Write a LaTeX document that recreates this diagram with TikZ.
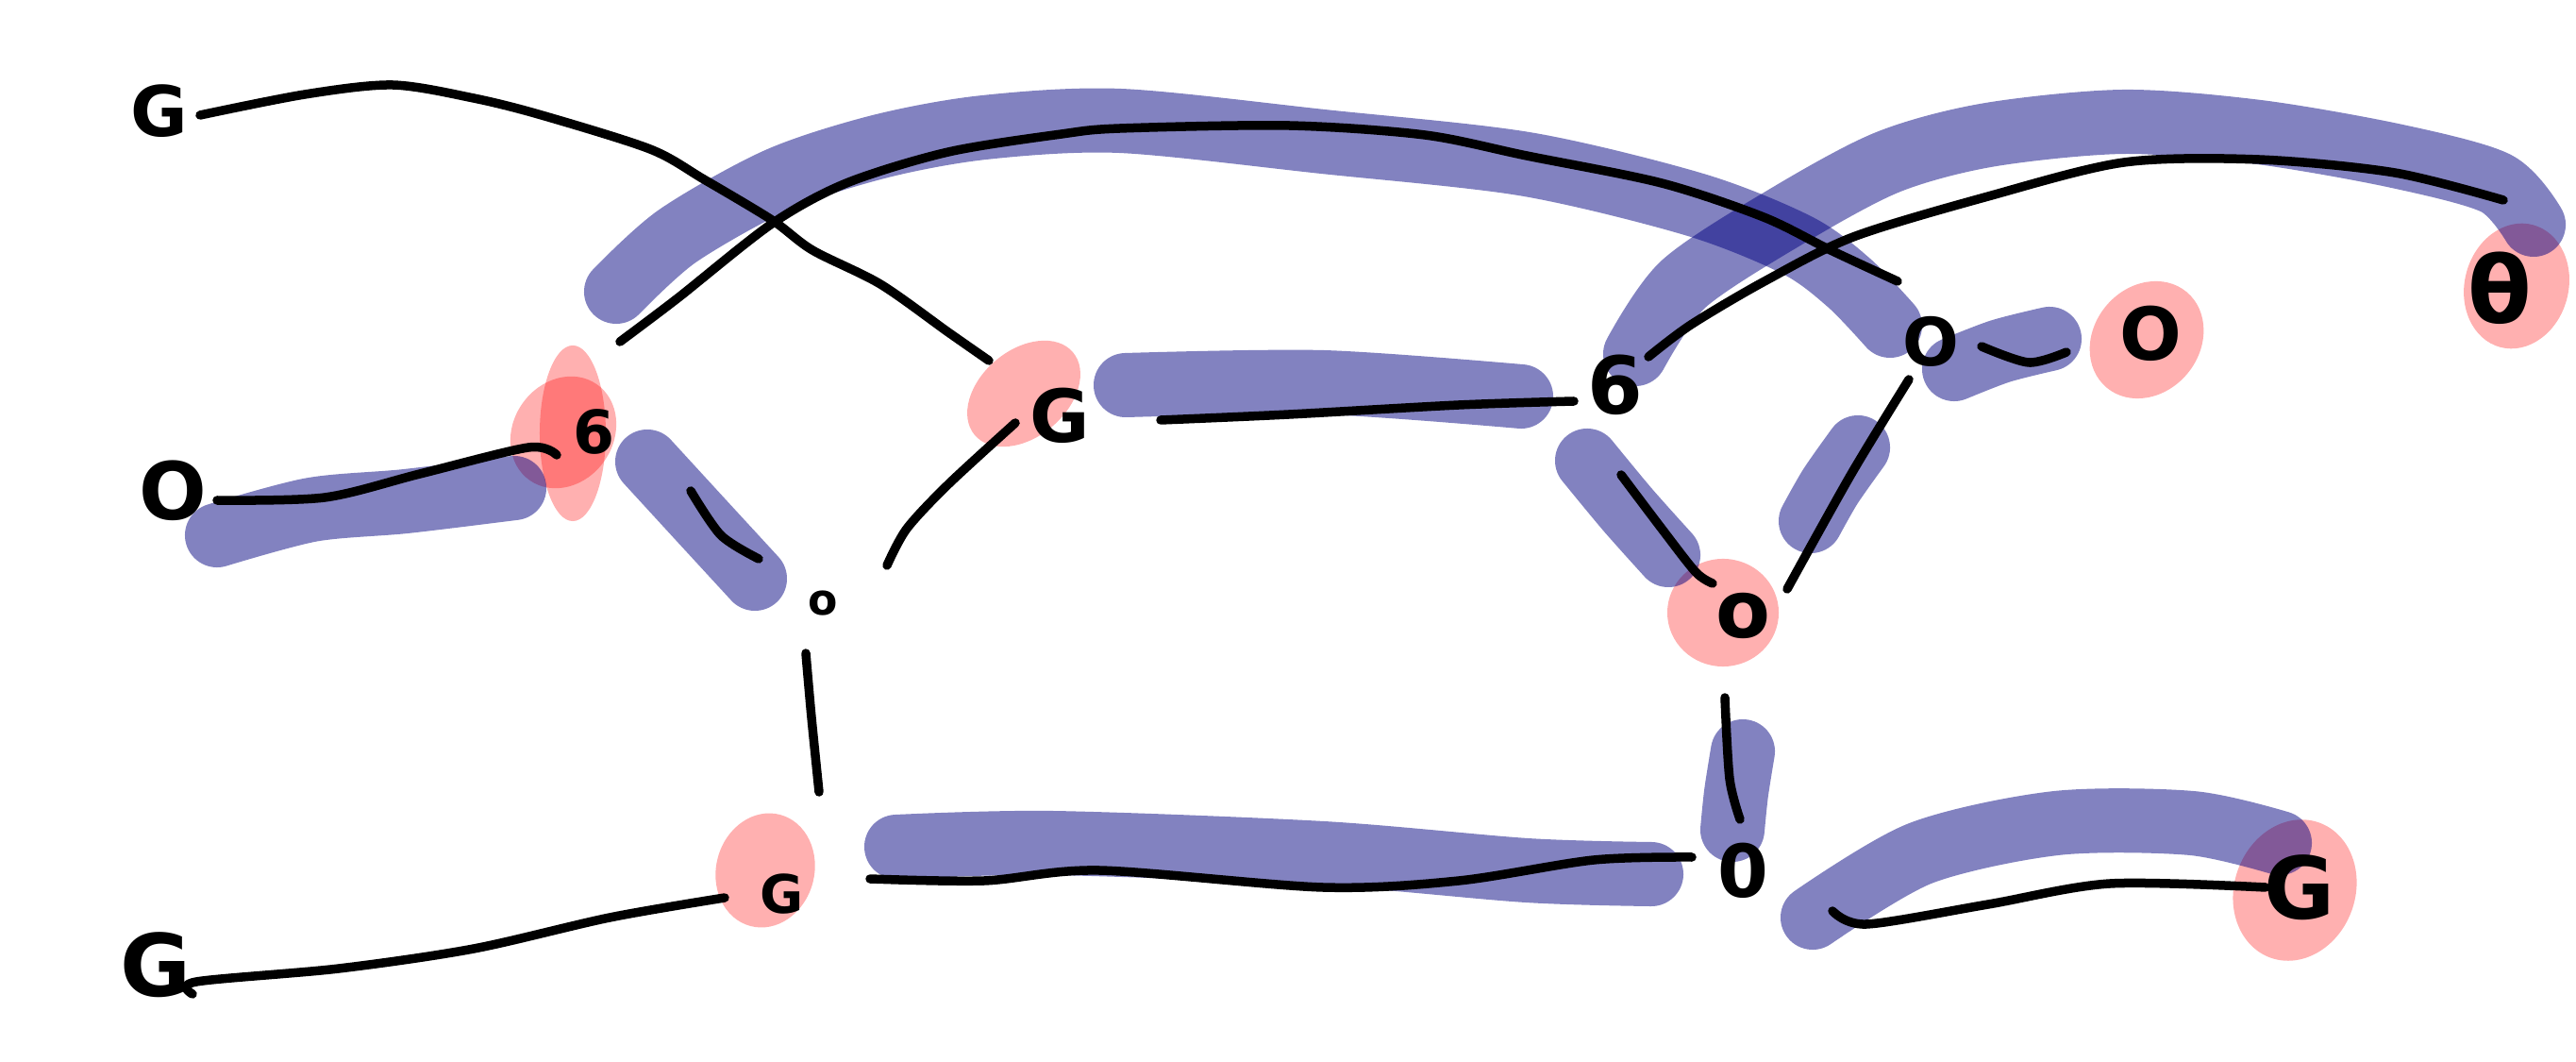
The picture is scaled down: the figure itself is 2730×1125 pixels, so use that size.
\documentclass[tikz,border=0pt]{standalone}
\usepackage{fontspec}
\setmainfont{DejaVu Sans}
\definecolor{hlblue}{RGB}{0,0,128}
\definecolor{inkc}{RGB}{0,0,0}
\tikzset{
  ink/.style={draw=inkc, line width=0.095cm, line cap=round, line join=round},
  hl/.style={draw=hlblue, draw opacity=0.49, line width=0.68cm, line cap=round, line join=round},
  blob/.style={fill=red, fill opacity=0.31},
  lbl/.style={inner sep=0pt, text=inkc},
  fs/.style={font=\bfseries\fontsize{#1}{#1}\selectfont}
}
\begin{document}
\begin{tikzpicture}[x=0.01cm, y=-0.01cm]
\path[use as bounding box, fill=white] (0,0) rectangle (2730,1125);

% pink blobs
\fill[blob] (607,459) ellipse [x radius=0.35cm, y radius=0.93cm];
\fill[blob, rotate around={-35:(597,458)}] (597,458) ellipse [x radius=0.53cm, y radius=0.62cm];
\fill[blob, rotate around={-50:(1085,417)}] (1085,417) ellipse [x radius=0.46cm, y radius=0.68cm];
\fill[blob, rotate around={-15:(811,922)}] (811,922) ellipse [x radius=0.52cm, y radius=0.61cm];
\fill[blob] (1826,649) ellipse [x radius=0.59cm, y radius=0.57cm];
\fill[blob, rotate around={-40:(2275,360)}] (2275,360) ellipse [x radius=0.56cm, y radius=0.66cm];
\fill[blob, rotate around={-15:(2667,303)}] (2667,303) ellipse [x radius=0.55cm, y radius=0.67cm];
\fill[blob, rotate around={-20:(2432,943)}] (2432,943) ellipse [x radius=0.64cm, y radius=0.76cm];

% blue highlight strokes
\draw[hl] plot[smooth] coordinates {(230,567) (330,540) (430,531) (545,517)};
\draw[hl] plot[smooth] coordinates {(686,489) (742,550) (800,613)};
\draw[hl] plot[smooth] coordinates {(653,309) (718,250) (825,190) (933,155) (1043,135) (1187,128) (1402,150) (1618,174) (1797,217) (1905,260) (1960,300) (2003,345)};
\draw[hl] plot[smooth] coordinates {(1193,408) (1402,405) (1612,420)};
\draw[hl] plot[smooth] coordinates {(1733,375) (1784,301) (1892,230) (2000,172) (2107,143) (2251,129) (2394,140) (2538,165) (2645,194) (2685,238)};
\draw[hl] plot[smooth] coordinates {(1682,488) (1725,540) (1768,588)};
\draw[hl] plot[smooth] coordinates {(1969,474) (1940,515) (1919,552)};
\draw[hl] plot[smooth] coordinates {(2071,391) (2120,372) (2172,359)};
\draw[hl] plot[smooth] coordinates {(1847,796) (1840,840) (1836,879)};
\draw[hl] plot[smooth] coordinates {(950,897) (1115,893) (1402,904) (1618,922) (1750,926)};
\draw[hl] plot[smooth] coordinates {(1921,972) (2035,904) (2179,872) (2323,872) (2416,893)};

% letters
\node[lbl, fs=21] (gtop) at (169,118) {G};
\node[lbl, fs=24] (oleft) at (183,520) {O};
\node[lbl, fs=18] (sixl) at (630,457) {6};
\node[lbl, fs=22] (gmid) at (1123,440) {G};
\node[lbl, fs=13] (osmall) at (872,639) {o};
\node[lbl, fs=16] (gsmall) at (829,947) {G};
\node[lbl, fs=26] (gbl) at (165,1022) {G};
\node[lbl, fs=24] (sixr) at (1712,408) {6};
\node[lbl, fs=24] (omid) at (1847,652) {o};
\node[lbl, fs=20] (ohook) at (2046,362) {O};
\node[lbl, fs=22] (oright) at (2279,353) {O};
\node[lbl, fs=28] (theta) at (2649,305) {θ};
\node[lbl, fs=22] (zero) at (1847,922) {0};
\node[lbl, fs=26] (gbr) at (2437,940) {G};

% ink lines
\draw[ink] plot[smooth] coordinates {(212,122) (323,100) (416,90) (502,104) (574,122) (689,158) (746,190) (818,233) (861,265) (933,301) (1005,352) (1048,382)};
\draw[ink] plot[smooth] coordinates {(230,530) (344,527) (445,502) (560,474) (590,482)};
\draw[ink] plot[smooth] coordinates {(657,362) (718,316) (818,237) (897,194) (1005,161) (1125,142) (1187,136) (1366,133) (1510,143) (1618,165) (1761,194) (1869,230) (1940,265) (2011,298)};
\draw[ink] plot[smooth] coordinates {(732,520) (764,567) (804,592)};
\draw[ink] plot[smooth] coordinates {(854,692) (860,760) (868,839)};
\draw[ink] plot[smooth] coordinates {(768,951) (646,972) (502,1005) (359,1026) (208,1040) (204,1053)};
\draw[ink] plot[smooth] coordinates {(1076,448) (1005,513) (961,560) (940,599)};
\draw[ink] plot[smooth] coordinates {(1230,445) (1366,439) (1546,429) (1668,425)};
\draw[ink] plot[smooth] coordinates {(1747,378) (1792,344) (1870,298) (1964,251) (2107,208) (2251,172) (2394,169) (2538,183) (2653,212)};
\draw[ink] plot[smooth] coordinates {(1718,503) (1761,560) (1797,606) (1815,618)};
\draw[ink] plot[smooth] coordinates {(2023,402) (1962,502) (1894,624)};
\draw[ink] plot[smooth] coordinates {(1828,739) (1833,825) (1844,868)};
\draw[ink] plot[smooth] coordinates {(922,931) (1043,933) (1165,922) (1402,940) (1546,933) (1689,911) (1793,908)};
\draw[ink] plot[smooth] coordinates {(2100,367) (2150,384) (2190,373)};
\draw[ink] plot[smooth] coordinates {(1942,965) (1978,979) (2107,958) (2236,936) (2401,940)};
\end{tikzpicture}
\end{document}
